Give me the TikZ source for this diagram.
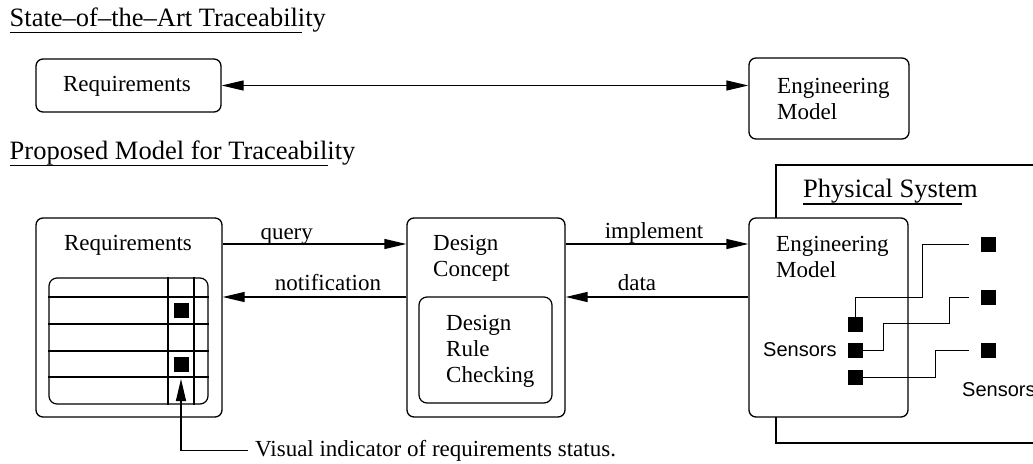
\documentclass[tikz,border=0pt]{standalone}
\usepackage{fontspec}
\setmainfont{Liberation Serif}
\setsansfont{Liberation Sans}
\usetikzlibrary{arrows.meta}

\tikzset{
  box/.style={draw, rounded corners=7pt, fill=white, line width=1.3pt, inner sep=0pt},
  inbox/.style={draw, rounded corners=8pt, fill=white, line width=1.2pt, inner sep=0pt},
  txt/.style={font=\fontsize{23}{26}\selectfont, inner sep=0pt},
  head/.style={font=\fontsize{26.5}{30}\selectfont, inner sep=0pt},
  sns/.style={font=\sffamily\fontsize{20}{24}\selectfont, inner sep=0pt},
  lines/.style={txt, align=left, anchor=north west},
  flow/.style={line width=1.3pt, -{Triangle[length=22pt,width=10pt]}},
  sq/.style={fill=black, minimum size=15pt, inner sep=0pt},
  wire/.style={line width=1pt},
  rule/.style={line width=1.2pt},
}

\begin{document}
\begin{tikzpicture}[x=1pt, y=-1pt]
\useasboundingbox (0,0) rectangle (1033,463);

% ---------- state of the art ----------
\node[head, anchor=base west] (t1) at (9.5,26) {State--of--the--Art Traceability};
\draw[rule] ([yshift=-6.5pt]t1.base west) -- ++(292.5,0);

\node[box, minimum width=185pt, minimum height=53pt] (req1) at (128.5,85.5) {};
\node[txt, anchor=base] (req1t) at (127,91.7) {Requirements};
\node[box, minimum width=160pt, minimum height=81pt] (eng1) at (829,98.5) {};
\node[lines] (eng1t) at (777,75.1) {\strut Engineering\\\strut Model};
\draw[line width=1.3pt, {Triangle[length=22pt,width=10pt]}-{Triangle[length=22pt,width=10pt]}]
  (req1.east) -- (eng1.west |- req1.east);

% ---------- proposed model ----------
\node[head, anchor=base west] (t2) at (9.5,159.3) {Proposed Model for Traceability};
\draw[rule] ([yshift=-6.4pt]t2.base west) -- ++(318.5,0);

% physical system frame (runs off to the right)
\draw[rule] (1045,165) -- (776,165) -- (776,443) -- (1045,443);
\node[head, anchor=base west] (ps) at (803,197.3) {Physical System};
\draw[rule] ([yshift=-6.7pt]ps.base west) -- ++(159,0);

% requirements with status table
\node[box, minimum width=186pt, minimum height=199pt] (reqB) at (129,317.5) {};
\node[txt, anchor=base] (reqBt) at (128,250.7) {Requirements};
\node[inbox, minimum width=159pt, minimum height=126pt] (tab) at (128.5,341) {};
\foreach \yy in {297,324,351,377}
  \draw[rule] (tab.west |- 0,\yy) -- (tab.east |- 0,\yy);
\foreach \xx in {168,194}
  \draw[rule] (\xx,0 |- tab.north) -- (\xx,0 |- tab.south);
\node[sq] (sqA) at (181,310.5) {};
\node[sq] (sqB) at (181,364.5) {};

% design concept
\node[box, minimum width=158pt, minimum height=199pt] (dc) at (486,317.5) {};
\node[lines] (dct) at (433,232.5) {\strut Design\\\strut Concept};
\node[inbox, minimum width=133pt, minimum height=106pt] (drc) at (485.5,350) {};
\node[lines] (drct) at (446,311.8) {\strut Design\\\strut Rule\\\strut Checking};

% engineering model
\node[box, minimum width=159pt, minimum height=199pt] (emB) at (828.5,317.5) {};
\node[lines] (emBt) at (776,233.5) {\strut Engineering\\\strut Model};

% flows between the boxes
\draw[flow] (reqB.east |- 0,244) -- (dc.west |- 0,244);
\node[txt, anchor=base] (lq) at (286.7,239.3) {query};
\draw[flow] (dc.west |- 0,297) -- (reqB.east |- 0,297);
\node[txt, anchor=base] (ln) at (328,290.7) {notification};
\draw[flow] (dc.east |- 0,244) -- (emB.west |- 0,244);
\node[txt, anchor=base] (li) at (654,238.3) {implement};
\draw[flow] (emB.west |- 0,297) -- (dc.east |- 0,297);
\node[txt, anchor=base] (ld) at (637,290) {data};

% status indicator callout
\node[txt, anchor=base west] (vis) at (255,456) {Visual indicator of requirements status.};
\coordinate (vtip) at (181,379);
\draw[flow] ([xshift=-7pt]vis.west) -| (vtip);

% sensors
\node[sq] (s1) at (855.5,324.5) {};
\node[sq] (s2) at (855.5,350.5) {};
\node[sq] (s3) at (855.5,377.5) {};
\node[sns, anchor=base west] (sl1) at (763,356.7) {Sensors};
\node[sq] (e1) at (988.5,244.5) {};
\node[sq] (e2) at (988.5,297.5) {};
\node[sq] (e3) at (988.5,350.5) {};
\node[sns, anchor=base west] (sl2) at (962,396) {Sensors};

\draw[wire] (s1.north) |- (922,297) |- ([xshift=-12pt]e1.west);
\draw[wire] (s2.east) -| (883,323) -| (949,297.5) -- ([xshift=-12pt]e2.west);
\draw[wire] (s3.east) -| (935,350.5) -- ([xshift=-12pt]e3.west);
\end{tikzpicture}
\end{document}
